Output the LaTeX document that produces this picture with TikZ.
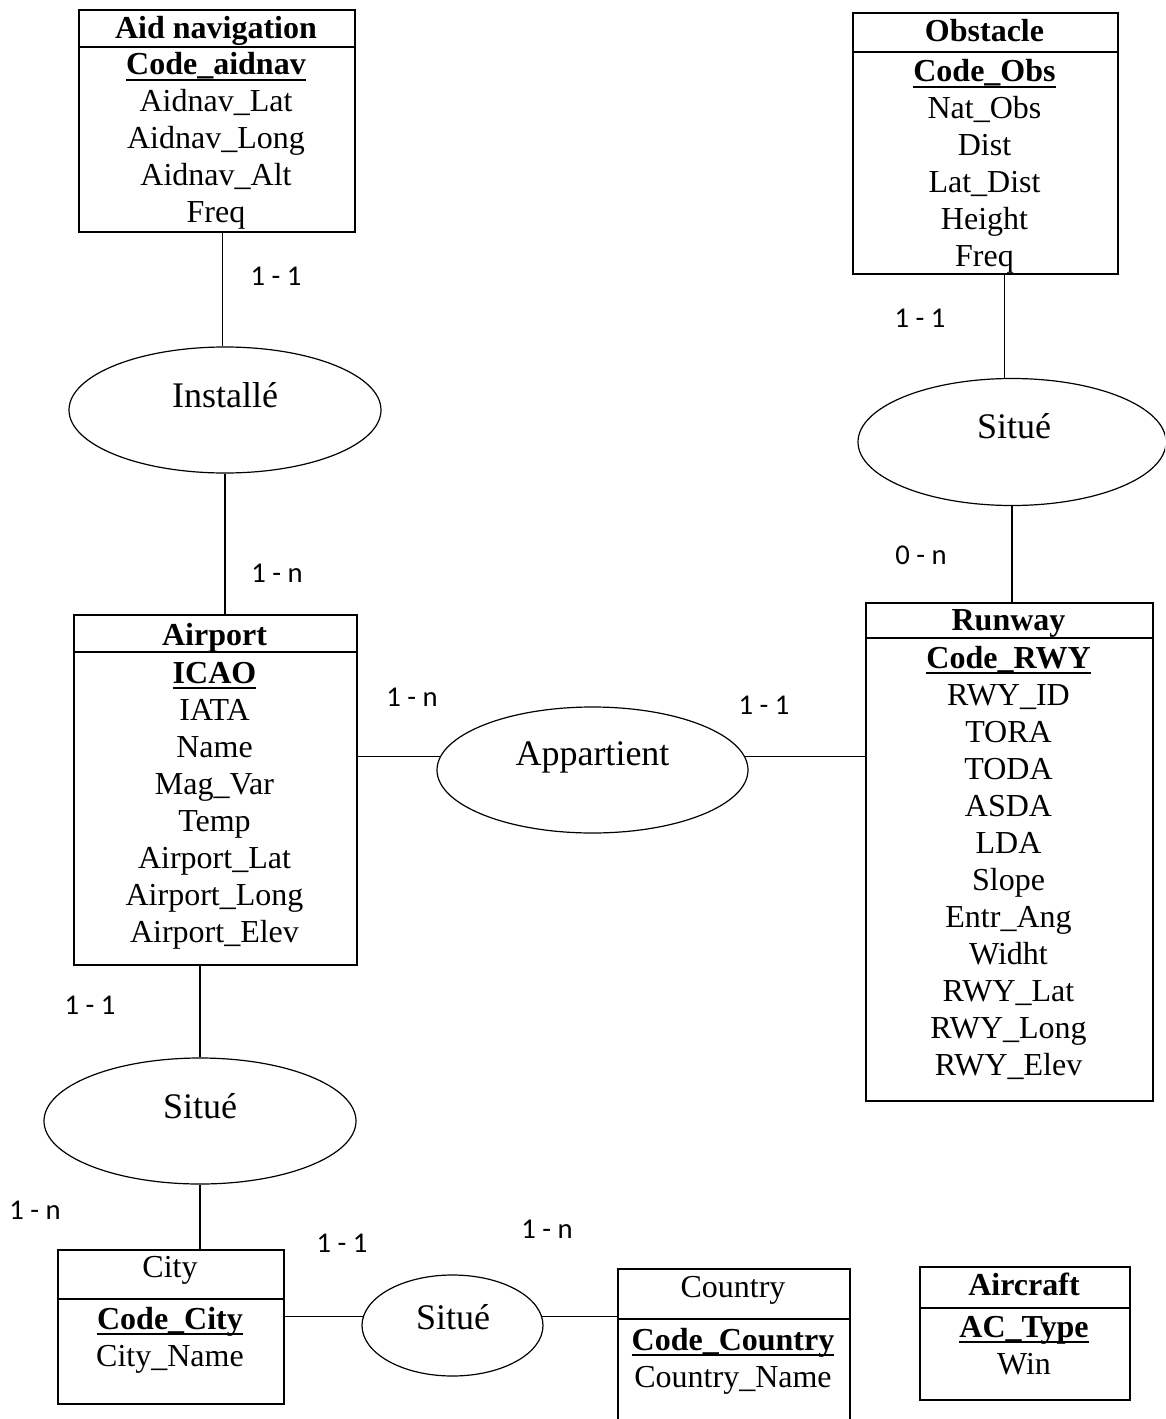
\documentclass[tikz,border=0pt]{standalone}
\usepackage{fontspec}
\setmainfont{Liberation Serif}
\newfontfamily\cardfont{Carlito}
\usetikzlibrary{shapes.geometric}

% bold key attribute with a heavy underline
\newcommand\keyu[1]{\setbox0\hbox{\bfseries #1}\rlap{\rule[-4.5pt]{\wd0}{1.5pt}}\box0}
% column of attribute lines, one node per line, 37 units apart
\newcommand\attrlist[4]{\foreach \t [count=\i] in {#4}
  \node[attr, anchor=base] (#1-\i) at (#2, {#3+37*(\i-1)}) {\t};}

\tikzset{
  entity/.style={draw, line width=1.5pt, rectangle, anchor=north west, inner sep=0pt},
  sepline/.style={line width=1.5pt},
  attr/.style={font=\fontsize{24}{28}\selectfont, inner sep=0pt},
  rel/.style={draw, ellipse, line width=0.9pt, inner sep=0pt},
  reltext/.style={font=\fontsize{27}{32}\selectfont, inner sep=0pt, anchor=base},
  link/.style={line width=0.9pt},
  card/.style={font=\cardfont\fontsize{21.5}{25}\selectfont, inner sep=0pt},
}

\begin{document}
\begin{tikzpicture}[x=0.75pt, y=-0.75pt]
\useasboundingbox (0,0) rectangle (1165,1419);
\clip (0,0) rectangle (1165,1419);

% ---------- entities ----------
% Aid navigation
\node[entity, minimum width=207pt, minimum height=166.5pt] (aidnav) at (78,9) {};
\draw[sepline] (aidnav.west |- 0,47) -- (aidnav.east |- 0,47);
\node[attr, anchor=base] (aidnav-t) at (216,39) {\textbf{Aid navigation}};
\attrlist{aidnav-a}{216}{75}{\keyu{Code\_aidnav}, Aidnav\_Lat, Aidnav\_Long, Aidnav\_Alt, Freq}

% Obstacle
\node[entity, minimum width=198.75pt, minimum height=195.75pt] (obstacle) at (852,12) {};
\draw[sepline] (obstacle.west |- 0,52) -- (obstacle.east |- 0,52);
\node[attr, anchor=base] (obstacle-t) at (984.5,42) {\textbf{Obstacle}};
\attrlist{obstacle-a}{984.5}{82}{\keyu{Code\_Obs}, Nat\_Obs, Dist, Lat\_Dist, Height, Freq}

% Airport
\node[entity, minimum width=212.25pt, minimum height=262.5pt] (airport) at (73,614) {};
\draw[sepline] (airport.west |- 0,652) -- (airport.east |- 0,652);
\node[attr, anchor=base] (airport-t) at (214.5,645) {\textbf{Airport}};
\attrlist{airport-a}{214.5}{683}{\keyu{ICAO}, IATA, Name, Mag\_Var, Temp, Airport\_Lat, Airport\_Long, Airport\_Elev}

% Runway
\node[entity, minimum width=215.25pt, minimum height=373.5pt] (runway) at (865,602) {};
\draw[sepline] (runway.west |- 0,638) -- (runway.east |- 0,638);
\node[attr, anchor=base] (runway-t) at (1008.5,630) {\textbf{Runway}};
\attrlist{runway-a}{1008.5}{668}{\keyu{Code\_RWY}, RWY\_ID, TORA, TODA, ASDA, LDA, Slope, Entr\_Ang, Widht, RWY\_Lat, RWY\_Long, RWY\_Elev}

% City
\node[entity, minimum width=169.5pt, minimum height=115.5pt] (city) at (57,1249) {};
\draw[sepline] (city.west |- 0,1299) -- (city.east |- 0,1299);
\node[attr, anchor=base] (city-t) at (170,1277) {City};
\attrlist{city-a}{170}{1329}{\keyu{Code\_City}, City\_Name}

% Country (runs past the lower edge)
\node[entity, minimum width=174pt, minimum height=135pt] (country) at (617,1268) {};
\draw[sepline] (country.west |- 0,1319) -- (country.east |- 0,1319);
\node[attr, anchor=base] (country-t) at (733,1297) {Country};
\attrlist{country-a}{733}{1350}{\keyu{Code\_Country}, Country\_Name}

% Aircraft
\node[entity, minimum width=157.5pt, minimum height=99.75pt] (aircraft) at (919,1266) {};
\draw[sepline] (aircraft.west |- 0,1308) -- (aircraft.east |- 0,1308);
\node[attr, anchor=base] (aircraft-t) at (1024,1295) {\textbf{Aircraft}};
\attrlist{aircraft-a}{1024}{1337}{\keyu{AC\_Type}, Win}

% ---------- relationships ----------
\node[rel, minimum width=234pt, minimum height=94.5pt] (installe) at (225,410) {};
\node[reltext] (installe-t) at (225,407) {Installé};

\node[rel, minimum width=231pt, minimum height=95.25pt] (situeR) at (1012,442) {};
\node[reltext] (situeR-t) at (1014,438) {Situé};

\node[rel, minimum width=233.25pt, minimum height=94.5pt] (appartient) at (592.5,770) {};
\node[reltext] (appartient-t) at (592.5,765) {Appartient};

\node[rel, minimum width=234pt, minimum height=94.5pt] (situeL) at (200,1121) {};
\node[reltext] (situeL-t) at (200,1118) {Situé};

\node[rel, minimum width=135.75pt, minimum height=75.75pt] (situeS) at (452.5,1325.5) {};
\node[reltext] (situeS-t) at (453,1329) {Situé};

% ---------- links ----------
\draw[link] (installe.92 |- aidnav.south) -- (installe.92);
\draw[link] (installe.south) -- (installe.south |- airport.north);
\draw[link] (situeR.97 |- obstacle.south) -- (situeR.97);
\draw[link] (situeR.south) -- (situeR.south |- runway.north);
\draw[link] (appartient.175 -| airport.east) -- (appartient.175);
\draw[link] (appartient.5) -- (appartient.5 -| runway.west);
\draw[link] (situeL.north |- airport.south) -- (situeL.north);
\draw[link] (situeL.south) -- (situeL.south |- city.north);
\draw[link] (situeS.174 -| city.east) -- (situeS.174);
\draw[link] (situeS.6) -- (situeS.6 -| country.west);

% ---------- cardinalities ----------
\node[card] (c1) at (276,276) {1 - 1};
\node[card] (c2) at (277,573) {1 - n};
\node[card] (c3) at (920,318) {1 - 1};
\node[card] (c4) at (921,555) {0 - n};
\node[card] (c5) at (412,697) {1 - n};
\node[card] (c6) at (764,705) {1 - 1};
\node[card] (c7) at (90,1005) {1 - 1};
\node[card] (c8) at (35,1210) {1 - n};
\node[card] (c9) at (342,1243) {1 - 1};
\node[card] (c10) at (547,1229) {1 - n};
\end{tikzpicture}
\end{document}
